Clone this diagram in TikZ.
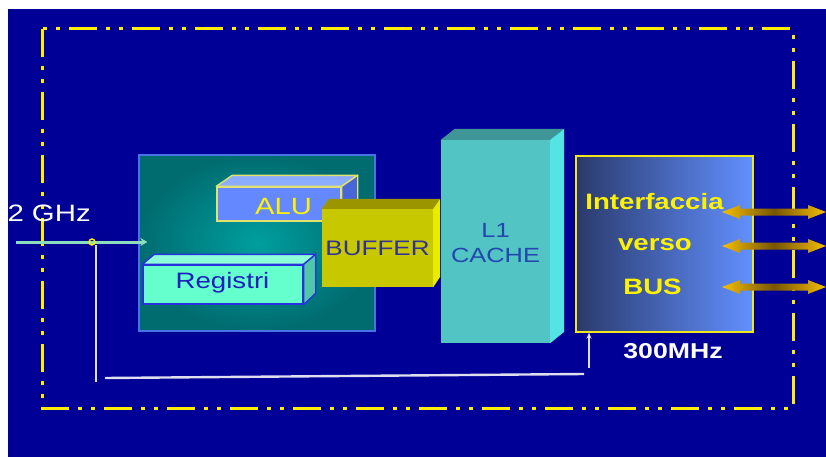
\documentclass[tikz,border=0pt]{standalone}
\usepackage{fontspec}
\setmainfont[FakeStretch=1.24]{Liberation Sans}
\usetikzlibrary{arrows.meta,calc}
\definecolor{bg}{RGB}{0,0,150}
\definecolor{frameyellow}{RGB}{255,238,0}
\definecolor{coreedge}{RGB}{70,115,230}
\definecolor{coreout}{RGB}{0,108,112}
\definecolor{corein}{RGB}{0,158,158}
\definecolor{alufr}{RGB}{100,136,255}
\definecolor{alutp}{RGB}{140,172,255}
\definecolor{alusd}{RGB}{72,102,215}
\definecolor{aluedge}{RGB}{225,225,110}
\definecolor{regfr}{RGB}{100,255,204}
\definecolor{regtp}{RGB}{140,255,218}
\definecolor{regsd}{RGB}{80,200,168}
\definecolor{regedge}{RGB}{40,50,220}
\definecolor{regtxt}{RGB}{30,30,190}
\definecolor{buffr}{RGB}{200,200,0}
\definecolor{buftp}{RGB}{155,150,0}
\definecolor{bufsd}{RGB}{235,235,0}
\definecolor{buftxt}{RGB}{50,50,150}
\definecolor{cachefr}{RGB}{82,196,196}
\definecolor{cachetp}{RGB}{62,150,150}
\definecolor{cachesd}{RGB}{85,228,228}
\definecolor{cachetxt}{RGB}{35,70,175}
\definecolor{busleft}{RGB}{42,58,108}
\definecolor{busright}{RGB}{98,144,255}
\definecolor{busedge}{RGB}{240,230,30}
\definecolor{gold}{RGB}{245,190,0}
\definecolor{golddark}{RGB}{120,85,0}
\definecolor{clkgreen}{RGB}{140,220,190}
\definecolor{wl}{RGB}{222,222,238}
\begin{document}
\begin{tikzpicture}[x=1pt,y=-1pt,
  frame/.style={draw=frameyellow,line width=3pt,
    dash pattern=on 28pt off 9pt on 4pt off 9pt on 4pt off 9pt},
  corebox/.style={rectangle,draw=coreedge,line width=1.2pt,inner color=corein,outer color=coreout,inner sep=0pt},
  alufront/.style={rectangle,fill=alufr,draw=aluedge,line width=1.4pt,inner sep=0pt},
  alutop/.style={fill=alutp,draw=aluedge,line width=1.4pt,line join=round},
  aluside/.style={fill=alusd,draw=aluedge,line width=1.4pt,line join=round},
  regfront/.style={rectangle,fill=regfr,draw=regedge,line width=1.4pt,inner sep=0pt},
  regtop/.style={fill=regtp,draw=regedge,line width=1.4pt,line join=round},
  regside/.style={fill=regsd,draw=regedge,line width=1.4pt,line join=round},
  buffront/.style={rectangle,fill=buffr,inner sep=0pt},
  buftop/.style={fill=buftp},
  bufside/.style={fill=bufsd},
  cachefront/.style={rectangle,fill=cachefr,inner sep=0pt},
  cachetop/.style={fill=cachetp},
  cacheside/.style={fill=cachesd},
  busbox/.style={rectangle,draw=busedge,line width=1.4pt,left color=busleft,right color=busright,inner sep=0pt},
  lbl/.style={anchor=base,inner sep=0pt},
  busarrow/.style={left color=gold,right color=gold,middle color=golddark},
  clk/.style={draw=clkgreen,line width=3pt},
  wline/.style={draw=wl,line width=2.4pt},
  tapdot/.style={draw=frameyellow,line width=1.4pt}
]
\useasboundingbox (0,0) rectangle (826,457);
\fill[white] (0,0) rectangle (826,457);
\fill[bg] (8,9) rectangle (826,457);
\draw[frame] (42,29) rectangle (793,408);

% processor core
\node[corebox,minimum width=236pt,minimum height=176pt] (core) at (257,243) {};

% ALU
\node[alufront,minimum width=124pt,minimum height=34pt] (alu) at (279,204) {};
\filldraw[alutop] (alu.north west) -- ++(16,-11) -- ($(alu.north east)+(16,-11)$) -- (alu.north east) -- cycle;
\filldraw[aluside] (alu.north east) -- ++(16,-11) -- ++(0,34) -- (alu.south east) -- cycle;
\node[lbl,text=yellow,font=\fontsize{23.5}{28}\selectfont] (alulbl) at (283.5,214) {ALU};

% Registri
\node[regfront,minimum width=160pt,minimum height=39pt] (reg) at (223,284.5) {};
\filldraw[regtop] (reg.north west) -- ++(12,-10) -- ($(reg.north east)+(12,-10)$) -- (reg.north east) -- cycle;
\filldraw[regside] (reg.north east) -- ++(12,-10) -- ++(0,39) -- (reg.south east) -- cycle;
\node[lbl,text=regtxt,font=\fontsize{22.3}{27}\selectfont] (reglbl) at (222.5,288) {Registri};

% BUFFER
\node[buffront,minimum width=111pt,minimum height=78pt] (buf) at (377.5,248) {};
\fill[buftop] (buf.north west) -- ++(7,-10) -- ($(buf.north east)+(7,-10)$) -- (buf.north east) -- cycle;
\fill[bufside] (buf.north east) -- ++(7,-10) -- ++(0,78) -- (buf.south east) -- cycle;
\node[lbl,text=buftxt,font=\fontsize{21}{25}\selectfont] (buflbl) at (377.5,255) {BUFFER};

% L1 cache
\node[cachefront,minimum width=109pt,minimum height=203pt] (cache) at (495.5,241.5) {};
\fill[cachetop] (cache.north west) -- ++(14,-11) -- ($(cache.north east)+(14,-11)$) -- (cache.north east) -- cycle;
\fill[cacheside] (cache.north east) -- ++(14,-11) -- ++(0,203) -- (cache.south east) -- cycle;
\node[lbl,text=cachetxt,font=\fontsize{20.5}{25}\selectfont] (l1lbl) at (495.5,237) {L1};
\node[lbl,text=cachetxt,font=\fontsize{20.5}{25}\selectfont] (cachelbl) at (495.5,262) {CACHE};

% bus interface
\node[busbox,minimum width=177pt,minimum height=176pt] (bus) at (664.5,244) {};
\node[lbl,text=yellow,font=\bfseries\fontsize{22.3}{27}\selectfont] (ifl1) at (654.5,209) {Interfaccia};
\node[lbl,text=yellow,font=\bfseries\fontsize{22.3}{27}\selectfont] (ifl2) at (655,250.5) {verso};
\node[lbl,text=yellow,font=\bfseries\fontsize{22.3}{27}\selectfont] (ifl3) at (652.5,294) {BUS};
\node[lbl,text=white,font=\bfseries\fontsize{21.5}{26}\selectfont] (mhz) at (673,358) {300MHz};

% bus arrows
\foreach \c in {212,246,287}{
  \shade[busarrow] (722,\c) -- (740,\c-7) -- (740,\c-3.5) -- (808,\c-3.5) -- (808,\c-7)
    -- (826,\c) -- (808,\c+7) -- (808,\c+3.5) -- (740,\c+3.5) -- (740,\c+7) -- cycle;
}

% clock distribution
\node[lbl,anchor=base east,text=white,font=\fontsize{23.7}{28}\selectfont] (ghz) at (91,221) {2 GHz};
\coordinate (clkin) at (16,242);
\coordinate (tap) at (92,242);
\draw[clk,-{Stealth[length=7pt,width=8pt]}] (clkin) -- ($(clkin -| core.west)+(9,0)$);
\coordinate (d1) at (96,245);
\coordinate (d2) at (96,382);
\draw[wline] (d1) -- (d2);
\coordinate (h1) at (105,378);
\coordinate (h2) at (584,374);
\draw[wline] (h1) -- (h2);
\coordinate (up) at (589,368);
\draw[wline,line width=2pt,-{Stealth[length=6pt,width=5pt]}] (up) -- (up |- bus.south);
\draw[tapdot] (tap) circle (3);
\fill[white] (0,0) rectangle (8,457);
\end{tikzpicture}
\end{document}
